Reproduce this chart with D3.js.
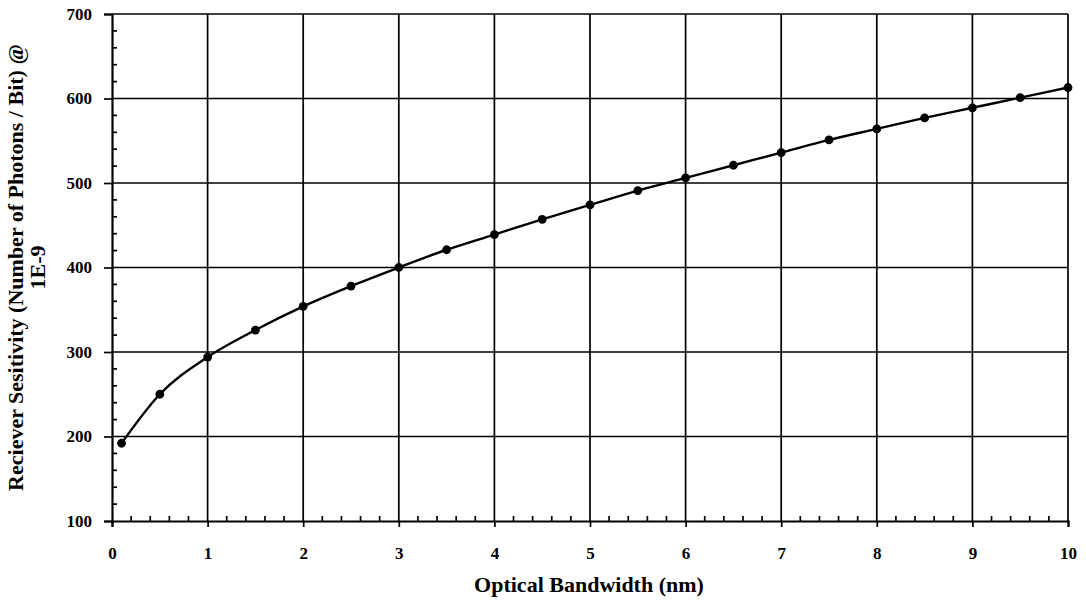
<!DOCTYPE html>
<html>
<head>
<meta charset="utf-8">
<script src="https://cdn.jsdelivr.net/npm/d3@7"></script>
<style>
  body { margin: 0; background: #fff; }
  svg { display: block; }
  text { font-family: "Liberation Serif", "Times New Roman", serif; font-weight: bold; fill: #000; }
</style>
</head>
<body>
<svg width="1086" height="600"></svg>
<script>
// optical bandwidth (nm)
const bandwidth = [0.1, 0.5, 1, 1.5, 2, 2.5, 3, 3.5, 4, 4.5, 5, 5.5, 6, 6.5, 7, 7.5, 8, 8.5, 9, 9.5, 10];
// receiver sensitivity (photons / bit)
const sensitivity = [192, 250, 294, 326, 354, 378, 400, 421, 439, 457, 474, 491, 506, 521, 536, 551, 564, 577, 589, 601, 613];

const xTicks = [0, 1, 2, 3, 4, 5, 6, 7, 8, 9, 10];
const yTicks = [100, 200, 300, 400, 500, 600, 700];

const data = bandwidth.map((b, i) => ({x: b, y: sensitivity[i]}));

function drawChart() {
    const svg = d3.select("svg");
    svg.selectAll("*").remove();

    const margin = {left: 112, top: 14, right: 18, bottom: 79};
    const width = 1086 - margin.left - margin.right;
    const height = 600 - margin.top - margin.bottom;

    const g = svg.append("g").attr("transform", `translate(${margin.left},${margin.top})`);

    const x = d3.scaleLinear().domain([0, 10]).range([0, width]);
    const y = d3.scaleLinear().domain([100, 700]).range([height, 0]);

    // grid
    g.append("g").selectAll("line")
        .data(xTicks.slice(1))
        .enter().append("line")
        .attr("x1", d => x(d)).attr("x2", d => x(d))
        .attr("y1", 0).attr("y2", height)
        .attr("stroke", "#000").attr("stroke-width", 1.7);

    g.append("g").selectAll("line")
        .data(yTicks.slice(1))
        .enter().append("line")
        .attr("x1", 0).attr("x2", width)
        .attr("y1", d => y(d)).attr("y2", d => y(d))
        .attr("stroke", "#000").attr("stroke-width", 1.7);

    // minor ticks (inside)
    const xMinor = d3.range(0, 10, 0.2).filter(v => Math.abs(v - Math.round(v)) > 0.01);
    g.append("g").selectAll("line")
        .data(xMinor)
        .enter().append("line")
        .attr("x1", d => x(d)).attr("x2", d => x(d))
        .attr("y1", height).attr("y2", height - 5)
        .attr("stroke", "#000").attr("stroke-width", 1.7);

    const yMinor = d3.range(100, 700, 20).filter(v => v % 100 !== 0);
    g.append("g").selectAll("line")
        .data(yMinor)
        .enter().append("line")
        .attr("x1", 0).attr("x2", 5)
        .attr("y1", d => y(d)).attr("y2", d => y(d))
        .attr("stroke", "#000").attr("stroke-width", 1.7);

    // axes
    const xAxis = g.append("g")
        .attr("transform", `translate(0,${height})`)
        .call(d3.axisBottom(x).tickValues(xTicks).tickSize(6).tickPadding(20).tickFormat(d3.format("d")));
    const yAxis = g.append("g")
        .call(d3.axisLeft(y).tickValues(yTicks).tickSize(8).tickPadding(12).tickFormat(d3.format("d")));

    [xAxis, yAxis].forEach(a => {
        a.select(".domain").attr("stroke", "#000").attr("stroke-width", 2.2);
        a.selectAll(".tick line").attr("stroke", "#000").attr("stroke-width", 1.7);
        a.selectAll("text").style("font-size", "17px").style("font-family", "Liberation Serif").style("font-weight", "bold");
    });

    // series
    const line = d3.line()
        .x(d => x(d.x))
        .y(d => y(d.y))
        .curve(d3.curveMonotoneX);

    g.append("path")
        .datum(data)
        .attr("fill", "none")
        .attr("stroke", "#000")
        .attr("stroke-width", 2.4)
        .attr("d", line);

    g.selectAll(".dot")
        .data(data)
        .enter().append("circle")
        .attr("class", "dot")
        .attr("cx", d => x(d.x))
        .attr("cy", d => y(d.y))
        .attr("r", 4.4)
        .attr("fill", "#000");

    // titles
    svg.append("text")
        .attr("x", 589)
        .attr("y", 592)
        .attr("text-anchor", "middle")
        .style("font-size", "22px")
        .text("Optical Bandwidth (nm)");

    const yt = svg.append("text")
        .attr("transform", `translate(23,${margin.top + height / 2}) rotate(-90)`)
        .attr("text-anchor", "middle")
        .style("font-size", "22px");
    yt.append("tspan").attr("x", 0).attr("dy", 0).text("Reciever Sesitivity (Number of Photons / Bit) @");
    yt.append("tspan").attr("x", 0).attr("dy", 22).text("1E-9");
}

drawChart();
</script>
</body>
</html>
